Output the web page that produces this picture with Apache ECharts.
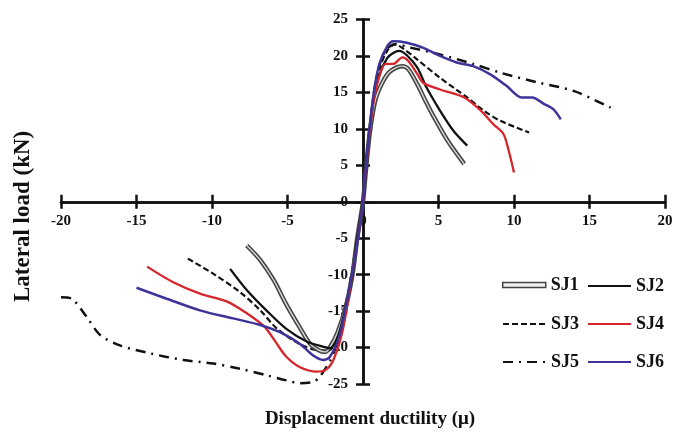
<!DOCTYPE html>
<html>
<head>
<meta charset="utf-8">
<script src="https://cdn.jsdelivr.net/npm/echarts@6/dist/echarts.min.js"></script>
<style>html,body{margin:0;padding:0;background:#fff;}#c{width:673px;height:437px;}</style>
</head>
<body>
<div id="c"></div>
<script>
const xTicks = { min: -20, max: 20, interval: 5 };
const yTicks = { min: -25, max: 25, interval: 5 };
const seriesNames = ['SJ1', 'SJ2', 'SJ3', 'SJ4', 'SJ5', 'SJ6'];
const xTitle = 'Displacement ductility (\u03bc)';
const yTitle = 'Lateral load (kN)';

const sj1 = [[-7.7,-6.0],[-6.8,-8.0],[-5.9,-10.8],[-5.1,-14.0],[-4.2,-17.2],[-3.5,-19.5],[-2.9,-20.4],[-2.5,-20.6],[-2.2,-20.0],[-1.7,-18.0],[-1.15,-14.5],[-0.7,-10.0],[-0.38,-5.0],[0,0],[0.2,4.5],[0.45,9.5],[0.8,13.8],[1.2,16.0],[1.7,17.7],[2.2,18.4],[2.6,18.6],[3.0,18.2],[3.6,16.1],[4.1,14.0],[4.7,11.6],[5.6,8.4],[6.7,5.2]];
const sj2 = [[-8.8,-9.2],[-7.7,-12.1],[-6.4,-14.9],[-5.1,-17.4],[-3.7,-19.2],[-2.6,-19.9],[-2.2,-20.1],[-1.75,-19.0],[-1.2,-15.0],[-0.7,-10.0],[-0.38,-5.0],[0,0],[0.2,4.8],[0.45,10.0],[0.75,14.5],[1.1,17.5],[1.6,19.7],[2.0,20.4],[2.4,20.7],[2.9,20.1],[3.6,18.4],[4.2,15.7],[5.1,12.5],[6.0,9.7],[6.9,7.7]];
const sj3 = [[-11.6,-7.8],[-9.9,-9.9],[-8.15,-12.4],[-6.8,-14.9],[-5.7,-17.4],[-4.2,-19.5],[-2.85,-20.4],[-2.3,-20.4],[-1.75,-19.2],[-1.2,-15.5],[-0.7,-10.2],[-0.38,-5.0],[0,0],[0.2,4.8],[0.45,10.2],[0.75,15.0],[1.1,18.3],[1.6,20.7],[2.1,21.6],[2.6,21.1],[3.6,19.5],[5.1,17.0],[6.9,14.3],[8.0,12.5],[9.1,11.1],[11.0,9.5]];
const sj4 = [[-14.3,-8.9],[-12.6,-11.0],[-10.8,-12.6],[-9.0,-13.7],[-7.7,-15.3],[-6.6,-17.0],[-6.16,-18.1],[-5.7,-19.5],[-5.06,-21.3],[-4.17,-22.7],[-3.07,-23.3],[-2.5,-23.1],[-1.96,-21.7],[-1.3,-17.2],[-0.64,-8.9],[-0.3,-4.5],[0,0],[0.2,4.6],[0.45,9.8],[0.75,14.3],[1.1,17.3],[1.5,18.9],[2.0,18.9],[2.6,19.8],[3.0,19.3],[3.6,17.5],[4.0,16.3],[5.1,15.4],[6.7,14.3],[7.8,12.5],[8.65,10.6],[9.3,9.3],[9.65,7.0],[10.0,4.0]];
const sj5 = [[-20.0,-13.1],[-19.3,-13.3],[-18.3,-15.8],[-17.4,-18.3],[-16.1,-19.7],[-14.1,-20.8],[-11.9,-21.7],[-9.9,-22.2],[-8.15,-22.9],[-6.4,-23.8],[-5.06,-24.5],[-4.17,-24.9],[-3.3,-24.7],[-2.85,-24.0],[-1.96,-20.8],[-1.08,-13.5],[-0.4,-5.3],[0,0],[0.2,4.9],[0.45,10.3],[0.75,15.3],[1.1,18.8],[1.6,21.0],[2.2,21.6],[3.0,21.2],[5.1,20.2],[7.3,18.9],[9.1,17.7],[11.7,16.3],[13.95,15.2],[16.4,12.9]];
const sj6 = [[-15.0,-11.8],[-13.0,-13.3],[-10.8,-14.9],[-8.6,-16.0],[-6.8,-16.9],[-5.5,-17.9],[-4.17,-19.5],[-3.3,-21.1],[-2.63,-21.7],[-2.2,-21.3],[-1.52,-18.1],[-0.64,-8.9],[-0.3,-4.5],[0,0],[0.2,5.0],[0.45,10.4],[0.75,15.5],[1.1,19.0],[1.6,21.3],[2.0,22.0],[2.9,21.8],[4.0,21.1],[5.1,20.0],[6.2,19.1],[7.3,18.6],[8.4,17.5],[9.5,15.9],[10.5,14.3],[11.2,14.3],[12.0,13.4],[12.6,12.7],[13.1,11.3]];

const FONT = 'Liberation Serif';
const chart = echarts.init(document.getElementById('c'));

// plot area
const G = { left: 61, right: 8, top: 19.5, bottom: 53 };
const W = 673, H = 437;
const midX = G.left + (W - G.left - G.right) / 2;   // where x = 0 (symmetric range)
const midY = G.top + (H - G.top - G.bottom) / 2;    // where y = 0 (symmetric range)

const lineSt = { color: '#111', width: 2.5 };
const labelSt = { color: '#111', fontFamily: FONT, fontWeight: 'bold', fontSize: 15 };

function axisBase(t) {
  return { type: 'value', min: t.min, max: t.max, interval: t.interval, splitLine: { show: false } };
}
// grid 0: the crossing axis lines with ticks on both sides
function lineAxis(t, pos) {
  return Object.assign(axisBase(t), {
    gridIndex: 0, position: pos,
    axisLine: { show: true, onZero: true, onZeroAxisIndex: 0, lineStyle: lineSt },
    axisTick: { show: true, length: 7, lineStyle: lineSt },
    axisLabel: { show: false }
  });
}
// label-only axes, placed in helper grids whose edges run through zero
function labelAxis(t, gi, pos, margin) {
  return Object.assign(axisBase(t), {
    gridIndex: gi, position: pos,
    axisLine: { show: false, onZero: false },
    axisTick: { show: false },
    axisLabel: Object.assign({ show: true, margin: margin }, labelSt)
  });
}
function hiddenAxis(t, gi) {
  return Object.assign(axisBase(t), { gridIndex: gi, show: false });
}

function lineSeries(name, data, color, width, type, z) {
  return {
    name: name, type: 'line', data: data, xAxisIndex: 0, yAxisIndex: 0,
    symbol: 'none', smooth: 0.3, z: z,
    lineStyle: { color: color, width: width, type: type },
    itemStyle: { color: color }
  };
}

function legendDef(name, left, top, extra) {
  return Object.assign({
    data: [name], left: left, top: top, itemWidth: 43, itemHeight: 14, itemGap: 0,
    textStyle: { fontFamily: FONT, fontWeight: 'bold', fontSize: 18, color: '#111' },
    itemStyle: { opacity: 0 },
    selectedMode: false
  }, extra || {});
}

const option = {
  backgroundColor: '#fff',
  animation: false,
  grid: [
    Object.assign({ containLabel: false, outerBoundsMode: 'none' }, G),
    { left: G.left, right: G.right, top: G.top, bottom: H - midY, containLabel: false, outerBoundsMode: 'none' },
    { left: midX, right: G.right, top: G.top, bottom: G.bottom, containLabel: false, outerBoundsMode: 'none' }
  ],
  xAxis: [
    lineAxis(xTicks, 'bottom'), lineAxis(xTicks, 'top'),
    labelAxis(xTicks, 1, 'bottom', 12), hiddenAxis(xTicks, 2)
  ],
  yAxis: [
    lineAxis(yTicks, 'left'), lineAxis(yTicks, 'right'),
    hiddenAxis(yTicks, 1), labelAxis(yTicks, 2, 'left', 15)
  ],
  title: [
    {
      text: xTitle, left: 365, top: 405, textAlign: 'center',
      textStyle: { fontFamily: FONT, fontWeight: 'bold', fontSize: 19, color: '#111' }
    }
  ],
  graphic: [
    {
      type: 'text', x: 12, y: 302, rotation: Math.PI / 2,
      style: { text: yTitle, fontFamily: FONT, fontWeight: 'bold', fontSize: 23, fill: '#111', textVerticalAlign: 'top' }
    }
  ],
  legend: [
    legendDef(seriesNames[0], 497, 271, { icon: 'rect', itemHeight: 5, itemStyle: { color: '#eeeeee', borderColor: '#444', borderWidth: 1.5 } }),
    legendDef(seriesNames[1], 582, 272),
    legendDef(seriesNames[2], 497, 310),
    legendDef(seriesNames[3], 582, 310),
    legendDef(seriesNames[4], 497, 348),
    legendDef(seriesNames[5], 582, 348)
  ],
  series: [
    lineSeries(seriesNames[4], sj5, '#111', 2.5, [10, 6, 2, 6], 2),
    lineSeries(seriesNames[2], sj3, '#111', 2.2, [6, 3], 3),
    lineSeries(seriesNames[0], sj1, '#444', 4.5, 'solid', 4),
    { name: 'SJ1 inner', type: 'line', data: sj1, xAxisIndex: 0, yAxisIndex: 0, symbol: 'none', smooth: 0.3, z: 5, lineStyle: { color: '#d8d8d8', width: 1.4 } },
    lineSeries(seriesNames[1], sj2, '#111', 2.3, 'solid', 6),
    lineSeries(seriesNames[3], sj4, '#d7262b', 2.3, 'solid', 7),
    lineSeries(seriesNames[5], sj6, '#3d3399', 2.5, 'solid', 8)
  ]
};
chart.setOption(option);
</script>
</body>
</html>
